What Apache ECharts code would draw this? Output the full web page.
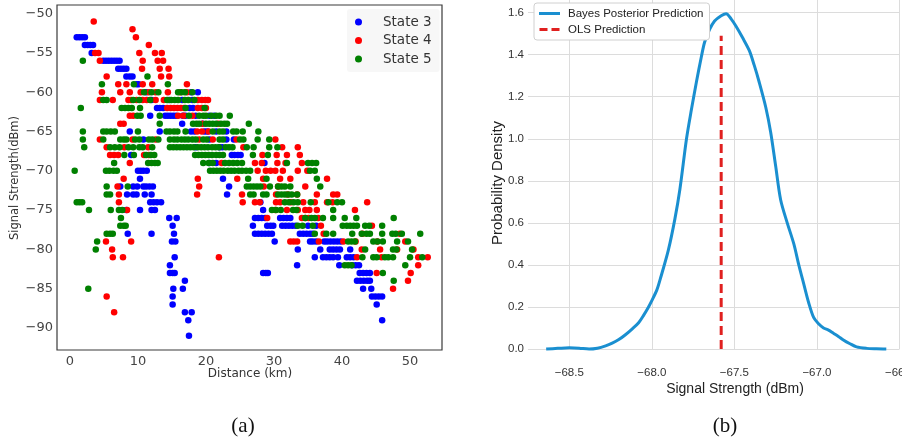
<!DOCTYPE html>
<html><head><meta charset="utf-8">
<script src="https://cdn.jsdelivr.net/npm/echarts@6/dist/echarts.min.js"></script>
<style>html,body{margin:0;padding:0;background:#fff}#c{width:902px;height:439px}</style>
</head><body><div id="c"></div>
<script>
// ---------- Panel (a): scatter, rows of [signal dBm, [distances km]] ----------
const state3Rows = [
 [-53,[1.0,1.4,1.8,2.2]],[-54,[2.2,2.6,3.0,3.4]],[-55,[3.2]],
 [-56,[4.9,5.3,5.7,6.1,6.5,6.9,7.3]],[-57,[7.1,7.5,7.9,8.3]],[-58,[8.3,8.8,9.2]],
 [-59,[9.8,10.1]],[-60,[11.2,17.8,18.8]],[-61,[12.0,14.6,16.5,18.0]],
 [-62,[12.8,13.2,13.7,17.6,18.1]],[-63,[11.8,14.0,14.4,14.8,15.2,15.6,16.6,17.0,18.5,20.5,21.2]],
 [-64,[16.5,19.5]],[-65,[8.8,13.2,17.8,18.3,19.8,20.2,21.5,23.0]],[-66,[10.8,20.5,23.0,24.1]],
 [-67,[18.5,22.0,22.4]],[-68,[9.0,23.8,24.2,24.7,25.1]],[-69,[20.5,21.5,28.6]],
 [-70,[10.0,10.4,10.8,11.3]],[-71,[10.3,22.5]],[-72,[7.4,9.3,9.9,10.8,11.2,11.7,12.2,23.4]],
 [-73,[8.4,9.3,9.8,11.0,12.0,23.1]],[-74,[11.8,12.3,12.8,13.4,28.0]],[-75,[8.3,10.3,12.0,12.5,28.4]],
 [-76,[14.6,15.7,27.2,27.7,28.2,28.7,30.9,31.4,31.9,32.4]],
 [-77,[15.1,26.9,29.0,29.5,29.9,31.2,31.7,32.2,32.7,33.2,35.0,36.2]],
 [-78,[8.5,12.0,15.3,27.2,27.7,28.2,28.7,29.2,29.7,33.8,34.3,34.8,35.3,35.7]],
 [-79,[15.0,15.5,30.1,35.3,35.7,36.2,37.4,37.8,38.3,38.8,39.3,39.8]],
 [-80,[33.5,36.8,38.2,38.7,39.2,39.7,41.2]],[-81,[15.4,36.0,37.2,37.7,38.2,38.7,39.4,40.7,41.2,41.7]],
 [-82,[14.7,33.4,39.6,41.5,42.0,42.5]],[-83,[14.7,15.1,15.4,28.4,28.8,29.1,42.6,43.1,43.6,44.1]],
 [-84,[16.9,42.2,42.7,43.2,43.7,44.1]],[-85,[15.2,16.6,43.1,44.3]],[-86,[15.1,44.4,44.9,45.4,45.9]],
 [-87,[15.1,45.1]],[-88,[16.9,17.9]],[-89,[17.4,45.9]],[-91,[17.5]]
];
const state4Rows = [
 [-51,[3.5]],[-52,[9.2]],[-53,[9.7]],[-54,[11.6]],[-55,[3.7,4.2,10.2,12.5,13.5]],
 [-56,[4.4,10.7,12.9,13.7]],[-57,[10.6,13.2,14.5]],[-58,[5.4,13.4,14.6]],
 [-59,[7.1,8.3,10.7,12.1,17.2]],[-60,[4.7,7.4,8.8,10.4,11.6,12.6,14.4,16.2,17.2]],
 [-61,[4.4,6.3,8.6,9.0,9.8,10.7,11.3,12.6,13.8,18.8,19.4,19.9,20.3]],
 [-62,[14.3,14.8,15.3,15.8,16.3,16.8,18.8,19.4,20.0]],[-63,[8.8,9.3,15.9,16.7,18.0]],
 [-64,[7.4,7.9,19.5,21.8]],[-65,[18.7,19.4,20.4]],[-66,[4.4,9.2,12.6,19.0,21.0,24.5,30.2]],
 [-67,[5.4,8.0,11.5,25.5,31.2,33.5]],[-68,[5.9,6.5,7.1,10.9,11.6,28.3,30.4,31.9,33.8]],
 [-69,[8.8,22.3,27.2,28.2,30.5,31.7,34.1]],[-70,[27.6,28.8,29.5,30.2,31.3,33.5,34.9]],
 [-71,[7.9,18.8,24.6,28.4,30.9,32.4,37.8]],[-72,[7.0,19.0,28.5,30.6,34.6]],
 [-73,[7.2,18.7,25.3,30.3,32.0,33.4,36.3,38.7,39.3]],
 [-74,[7.2,25.4,27.2,27.9,30.3,30.9,32.5,34.3,36.0,37.8,38.6,43.7]],
 [-75,[8.4,30.2,31.9,33.5,34.6,35.2,36.3,41.9]],[-76,[29.0,34.1,34.6,35.1,36.5]],
 [-77,[36.9,44.4]],[-78,[37.3,43.0,48.5]],[-79,[5.3,9.0,32.4,32.9,33.4,36.6,40.2,42.0,45.2,49.3]],
 [-80,[6.2,42.9,45.6,48.1,50.5]],[-81,[6.3,7.8,21.9,42.2,45.8,51.2,52.6]],[-82,[51.2]],
 [-83,[45.1,50.1]],[-84,[49.7]],[-85,[47.5]],[-86,[5.4]],[-88,[6.5]]
];
const state5Rows = [
 [-56,[1.9]],[-58,[11.4]],[-59,[4.7,9.4,14.4]],[-60,[10.9,12.0,13.0,15.9,16.4,16.9,18.0]],
 [-61,[4.9,5.4,9.3,10.2,11.8,14.3,14.9,15.4,15.9,16.9,17.4,18.3]],
 [-62,[1.6,7.6,8.1,8.6,9.1,10.3,17.0,19.8]],
 [-63,[9.9,10.4,13.2,17.5,19.0,19.6,20.0,20.8,21.5,22.0,23.5]],
 [-64,[13.2,18.1,18.6,19.0,20.0,20.5,21.0,21.5,22.2,22.7,23.1,26.3]],
 [-65,[1.9,4.9,5.4,6.0,6.6,10.0,14.2,14.7,15.3,15.8,17.0,21.0,22.0,22.5,24.0,24.5,25.4,27.7]],
 [-66,[1.9,4.9,7.4,7.9,8.3,9.6,10.2,11.6,12.1,13.0,14.7,15.3,15.8,16.4,16.9,17.4,18.0,18.5,19.6,20.1,22.0,22.5,25.0,25.5,27.6,29.3]],
 [-67,[2.1,5.9,6.6,7.3,8.6,9.3,10.2,10.7,12.1,14.7,15.2,15.7,16.2,16.7,17.2,17.7,18.2,18.8,19.3,19.8,20.3,20.9,21.4,21.9,22.9,23.4,23.9,26.0,27.0,29.3,30.5]],
 [-68,[8.0,9.4,11.2,11.9,12.4,18.4,18.9,19.4,19.9,20.4,20.9,21.5,22.0,22.5,26.9,29.1]],
 [-69,[6.5,11.5,12.0,12.5,12.9,19.6,20.4,21.0,22.8,23.4,24.0,24.6,25.3,31.9,35.0,35.6,36.2]],
 [-70,[0.7,5.3,5.8,6.4,6.9,20.6,21.1,21.6,22.1,22.6,23.2,23.7,24.2,24.8,25.3,25.9,26.5,35.3,36.0]],
 [-71,[26.2,28.9,36.3]],
 [-72,[5.4,8.5,26.0,26.5,27.0,27.5,28.0,29.4,30.6,31.1,31.6,32.4,36.8]],
 [-73,[5.4,5.9,26.5,27.0,28.4,28.9,30.6,31.1,31.6,32.1,32.6,33.4]],
 [-74,[1.0,1.4,1.8,31.6,32.2,32.9,33.5,35.4,38.0,39.3,40.0]],
 [-75,[2.8,6.0,7.2,7.7,29.7,30.3,31.0,32.8,33.3,38.7]],
 [-76,[7.5,34.6,35.5,36.0,37.2,38.7,40.4,42.1,47.6]],
 [-77,[7.4,7.9,8.2,33.5,34.2,35.7,40.1,40.7,41.2,41.7,42.2,43.4,44.0,45.9]],
 [-78,[5.4,5.9,6.3,36.0,37.7,38.7,41.5,42.9,43.6,44.1,45.9,47.4,47.9,48.8,51.5]],
 [-79,[4.0,40.9,41.4,41.9,44.6,45.2,46.0,48.1,49.7]],[-80,[3.8,43.4,47.5,48.0,50.3]],
 [-81,[43.0,44.6,45.1,46.3,46.8,47.5,50.0,51.8]],[-82,[40.4,40.9,41.4,49.3]],
 [-83,[46.0]],[-84,[47.6]],[-85,[2.7]]
];
const stateNames = ['State 3','State 4','State 5'];

// ---------- Panel (b): KDE curve ----------
const kdeX = [-68.64,-68.57,-68.50,-68.44,-68.38,-68.33,-68.28,-68.24,-68.20,-68.16,-68.12,-68.08,-68.05,-68.02,-68.00,-67.97,-67.95,-67.90,-67.86,-67.83,-67.79,-67.76,-67.73,-67.70,-67.68,-67.65,-67.62,-67.58,-67.55,-67.52,-67.49,-67.45,-67.41,-67.38,-67.35,-67.31,-67.28,-67.25,-67.22,-67.18,-67.14,-67.11,-67.08,-67.05,-67.02,-66.99,-66.96,-66.93,-66.90,-66.87,-66.84,-66.80,-66.76,-66.70,-66.64,-66.58];
const kdeY = [0.0,0.003,0.006,0.004,0.0,0.004,0.015,0.028,0.045,0.068,0.095,0.125,0.16,0.20,0.23,0.28,0.33,0.47,0.62,0.76,1.0,1.14,1.27,1.39,1.46,1.52,1.56,1.585,1.595,1.57,1.535,1.48,1.42,1.35,1.27,1.15,1.03,0.87,0.71,0.60,0.50,0.40,0.31,0.22,0.15,0.12,0.10,0.09,0.075,0.06,0.043,0.025,0.01,0.003,0.001,0.0];
const olsX = -67.58;
const olsTop = 1.49;
const legendB = ['Bayes Posterior Prediction','OLS Prediction'];

function flat(rows){const out=[];rows.forEach(r=>r[1].forEach(x=>out.push([x,r[0]])));return out;}
const minus = s => String(s).replace('-', '\u2212');

const chart = echarts.init(document.getElementById('c'), null, {renderer:'canvas'});
const fA = 'DejaVu Sans', fB = 'Liberation Sans';
const blueB = '#1a8fd0', redB = '#e0201f';
chart.setOption({
  animation:false,
  backgroundColor:'#fff',
  grid:[
    {left:57, top:5, width:385, height:345, show:true, borderColor:'#3a3a3a', borderWidth:1.2,
     backgroundColor:'#fff', containLabel:false, outerBoundsMode:'none'},
    {left:528, width:371.5, top:0, height:349, containLabel:false, outerBoundsMode:'none'}
  ],
  xAxis:[
    {gridIndex:0, type:'value', min:-1.9, max:54.7, splitNumber:5,
     axisLine:{show:false}, axisTick:{show:false}, splitLine:{show:false},
     axisLabel:{margin:5, color:'#444', fontFamily:fA, fontSize:13, showMinLabel:false, showMaxLabel:false}},
    {gridIndex:1, type:'value', min:-68.75, max:-66.5, splitNumber:5,
     axisLine:{show:false}, axisTick:{show:false},
     splitLine:{show:true, showMinLine:false, lineStyle:{color:'#dcdcdc', width:1}},
     axisLabel:{margin:18, color:'#333', fontFamily:fB, fontSize:11.5, showMinLabel:false, hideOverlap:false,
       formatter:v=>minus(v.toFixed(1))}}
  ],
  yAxis:[
    {gridIndex:0, type:'value', min:-92.8, max:-48.9, splitNumber:9,
     axisLine:{show:false}, axisTick:{show:false}, splitLine:{show:false},
     axisLabel:{margin:4, color:'#444', fontFamily:fA, fontSize:13, showMinLabel:false, showMaxLabel:false,
       formatter:v=>minus(v)}},
    {gridIndex:1, type:'value', min:0, max:1.66, interval:0.2,
     axisLine:{show:false}, axisTick:{show:false},
     splitLine:{show:true, showMaxLine:false, lineStyle:{color:'#dcdcdc', width:1}},
     axisLabel:{margin:4, color:'#333', fontFamily:fB, fontSize:11.5, showMaxLabel:false,
       formatter:v=>v.toFixed(1)}}
  ],
  legend:[
    {data:stateNames, orient:'vertical', left:347, top:9, padding:[6,8,6,8],
     itemWidth:7, itemHeight:7, itemGap:4.5, icon:'circle',
     backgroundColor:'rgba(246,246,246,0.9)', borderRadius:3,
     textStyle:{fontFamily:fA, fontSize:13.5, color:'#333', lineHeight:14, padding:[0,0,0,16]}},
    {data:[
       {name:legendB[0], icon:'path://M0,0H21V3H0Z', itemStyle:{color:blueB}},
       {name:legendB[1], icon:'path://M0,0H8V3H0Z M12,0H20V3H12Z', itemStyle:{color:redB}}
     ],
     orient:'vertical', left:534, top:3,
     padding:[4,6,4,5], itemWidth:21, itemHeight:3, itemGap:3,
     backgroundColor:'#fff', borderColor:'#d0d0d0', borderWidth:1, borderRadius:3,
     textStyle:{fontFamily:fB, fontSize:11.5, color:'#222', lineHeight:13, padding:[0,0,0,3]}}
  ],
  series:[
    {name:'State 3', type:'scatter', xAxisIndex:0, yAxisIndex:0, symbolSize:6.5,
     itemStyle:{color:'#0000ff', opacity:1}, data:flat(state3Rows)},
    {name:'State 4', type:'scatter', xAxisIndex:0, yAxisIndex:0, symbolSize:6.5,
     itemStyle:{color:'#ff0000', opacity:1}, data:flat(state4Rows)},
    {name:'State 5', type:'scatter', xAxisIndex:0, yAxisIndex:0, symbolSize:6.5,
     itemStyle:{color:'#008000', opacity:1}, data:flat(state5Rows)},
    {name:legendB[0], type:'line', xAxisIndex:1, yAxisIndex:1, smooth:0.3,
     symbol:'none', clip:false, lineStyle:{color:blueB, width:3}, itemStyle:{color:blueB},
     data:kdeX.map((x,i)=>[x,kdeY[i]])},
    {name:legendB[1], type:'line', xAxisIndex:1, yAxisIndex:1, symbol:'none', clip:false,
     lineStyle:{color:redB, width:3, type:[9,5]}, itemStyle:{color:redB},
     data:[[olsX,0],[olsX,olsTop]]}
  ],
  graphic:[
    {type:'text', x:15, y:178, rotation:Math.PI/2,
     style:{text:'Signal Strength(dBm)', font:'11.5px "DejaVu Sans"', fill:'#333', textAlign:'center', textVerticalAlign:'middle'}},
    {type:'text', x:250, y:374,
     style:{text:'Distance (km)', font:'12px "DejaVu Sans"', fill:'#333', textAlign:'center', textVerticalAlign:'middle'}},
    {type:'text', x:498, y:183, rotation:Math.PI/2,
     style:{text:'Probability Density', font:'15px "Liberation Sans"', fill:'#222', textAlign:'center', textVerticalAlign:'middle'}},
    {type:'text', x:735, y:389,
     style:{text:'Signal Strength (dBm)', font:'14px "Liberation Sans"', fill:'#222', textAlign:'center', textVerticalAlign:'middle'}},
    {type:'text', x:243, y:426,
     style:{text:'(a)', font:'21px "Liberation Serif"', fill:'#111', textAlign:'center', textVerticalAlign:'middle'}},
    {type:'text', x:725, y:426,
     style:{text:'(b)', font:'21px "Liberation Serif"', fill:'#111', textAlign:'center', textVerticalAlign:'middle'}}
  ]
});
</script></body></html>
